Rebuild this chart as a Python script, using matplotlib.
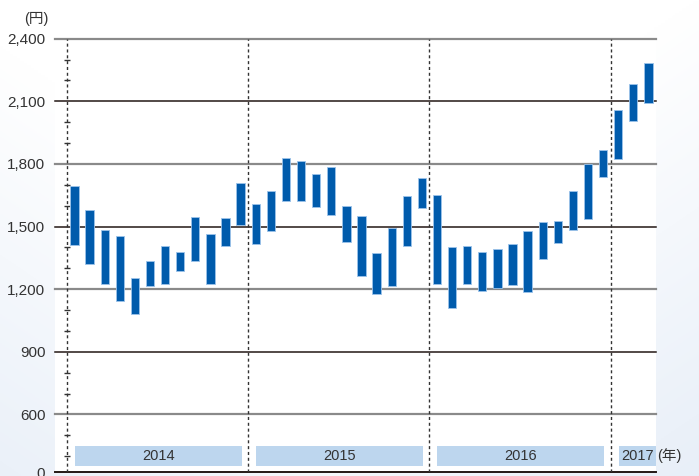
import numpy as np
import matplotlib
matplotlib.use("Agg")
import matplotlib.pyplot as plt
import matplotlib.transforms as mtransforms

plt.rcParams['font.family'] = ['Liberation Sans', 'Noto Sans CJK JP', 'DejaVu Sans']

# ---- data (monthly high / low, Jan 2014 - Mar 2017) ----
years = ["2014", "2015", "2016", "2017"]
months_per_year = [12, 12, 12, 3]
highs = [1694, 1578, 1485, 1456, 1253, 1333, 1405, 1376, 1544, 1463, 1539, 1707,
         1610, 1672, 1829, 1812, 1754, 1783, 1600, 1552, 1373, 1491, 1646, 1731,
         1653, 1402, 1408, 1380, 1394, 1418, 1478, 1520, 1528, 1670, 1802, 1869,
         2059, 2181, 2282]
lows = [1410, 1322, 1226, 1141, 1080, 1213, 1224, 1288, 1333, 1227, 1408, 1509,
        1415, 1477, 1621, 1622, 1592, 1555, 1424, 1264, 1175, 1213, 1406, 1587,
        1226, 1112, 1226, 1192, 1205, 1221, 1187, 1346, 1423, 1483, 1535, 1736,
        1826, 2006, 2091]
ytick_values = [324, 600, 900, 1200, 1500, 1800, 2100, 2400]
ytick_labels = ["0", "600", "900", "1,200", "1,500", "1,800", "2,100", "2,400"]
minor_values = [400, 500, 700, 800, 1000, 1100, 1300, 1400, 1600, 1700,
                1900, 2000, 2200, 2300]
y_unit = "(円)"
x_unit = "(年)"

W, H = 699, 476
fig = plt.figure(figsize=(W / 100, H / 100), dpi=100)

# background gradient
bg = fig.add_axes([0, 0, 1, 1], zorder=-10)
yy, xx = np.mgrid[0:1:200j, 0:1:300j]
f = np.clip(1.0 * yy + 0.5 * np.abs(xx - 0.45) * 2 - 0.55, 0, 1) * 0.9
base = np.array([1.0, 1.0, 1.0])
tint = np.array([0.90, 0.93, 0.97])
img = base[None, None, :] * (1 - f[..., None]) + tint[None, None, :] * f[..., None]
bg.imshow(img, aspect='auto', extent=[0, 1, 0, 1], origin='upper')
bg.axis('off')

left, right = 55 / W, 656 / W
top, bottom = 1 - 38.7 / H, 1 - 472 / H
ax = fig.add_axes([left, bottom, right - left, top - bottom])
ax.set_facecolor('white')

x = np.arange(len(highs))
ax.set_xlim(-1.29, 38.5)
ax.set_ylim(324, 2400)

# grid lines
grid_styles = {2400: ('#8a8a8a', 1.6), 2100: ('#231815', 1.1), 1800: ('#8a8a8a', 1.6),
               1500: ('#231815', 1.1), 1200: ('#8a8a8a', 1.6), 900: ('#231815', 1.1),
               600: ('#8a8a8a', 1.6), 324: ('#231815', 1.4)}
for v in ytick_values:
    c, lw = grid_styles[v]
    ax.axhline(v, color=c, lw=lw, zorder=1, clip_on=False)

# year separators
starts = np.cumsum([0] + months_per_year[:-1])
for s in starts:
    ax.axvline(s - 0.5, color='#333333', lw=1.0, ls=(0, (2.2, 2.0)), zorder=1)

# minor ticks on first separator
ax.plot([-0.5] * len(minor_values), minor_values, ls='none', marker='_',
        markersize=5, mew=1.0, color='#333333', zorder=2, clip_on=False)

# bars
ax.bar(x, np.array(highs) - np.array(lows), bottom=lows, width=0.55,
       color='#005bac', edgecolor='#9cc3ea', linewidth=0.6, zorder=3)

# year label boxes
trans = mtransforms.blended_transform_factory(ax.transData, ax.transAxes)
for yr, s, n in zip(years, starts, months_per_year):
    x0 = s + 0.03
    x1 = min(s + 11.07, 38.5)
    ax.add_patch(plt.Rectangle((x0, 0.0145), x1 - x0, 0.0455, transform=trans,
                               facecolor='#bdd6ee', edgecolor='none', zorder=2,
                               clip_on=False))
    ax.text((x0 + x1) / 2, 0.0375, yr, transform=trans, ha='center', va='center',
            fontsize=10.5, color='#333333', zorder=4)

ax.text(38.6, 0.0375, x_unit, transform=trans, ha='left', va='center',
        fontsize=10.5, color='#333333')

ax.set_yticks(ytick_values)
ax.set_yticklabels(ytick_labels, fontsize=11, color='#333333')
ax.tick_params(axis='y', length=0, pad=7)
ax.set_xticks([])
for sp in ax.spines.values():
    sp.set_visible(False)

fig.text(36 / W, 1 - 19 / H, y_unit, ha='center', va='center', fontsize=10.5,
         color='#333333')

fig.savefig('out.png', dpi=100)
